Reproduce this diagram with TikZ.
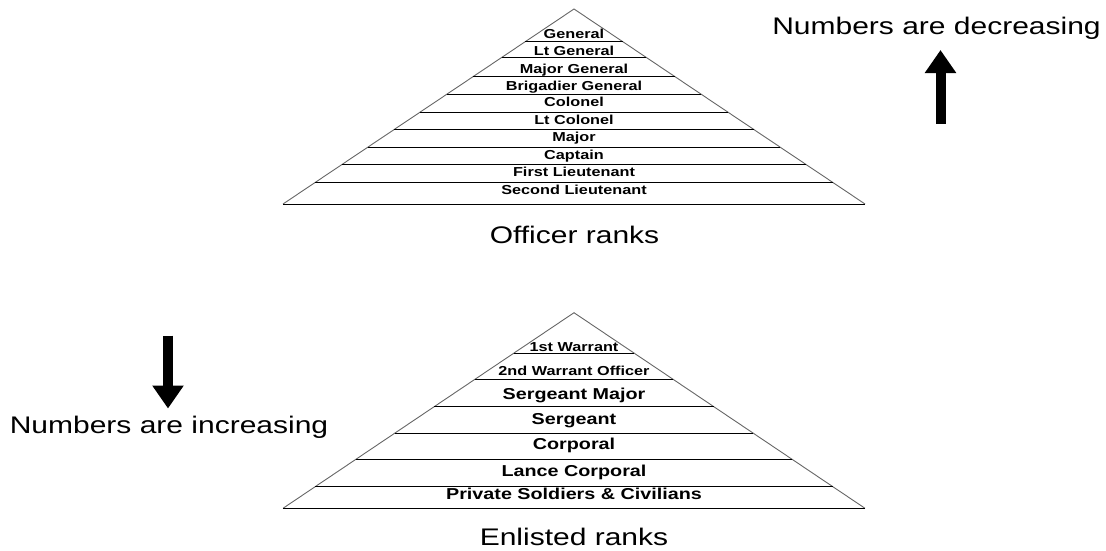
\documentclass[tikz,border=0pt]{standalone}
\usepackage{fontspec}
\setmainfont[FakeStretch=1.25]{Liberation Sans}
\usetikzlibrary{calc,arrows.meta}
\tikzset{
  slantline/.style={draw=black!60, line width=0.9pt},
  bandline/.style={draw=black, line width=0.9pt},
  rankname/.style={anchor=base, inner sep=0pt, font=\bfseries\fontsize{13}{15}\selectfont},
  bigrankname/.style={rankname, font=\bfseries\fontsize{15.8}{18}\selectfont},
  captiontext/.style={anchor=base, inner sep=0pt, font=\fontsize{24}{28}\selectfont},
  trendarrow/.style={line width=10pt, -{Triangle[width=30pt,length=23pt]}}
}
\begin{document}
\begin{tikzpicture}[x=1pt,y=-1pt]
  \useasboundingbox (0,0) rectangle (1106,550);
  % officer pyramid
  \coordinate (otop) at (574,9);
  \coordinate (obl) at (283,204);
  \coordinate (obr) at (865,204);
  \draw[slantline] (obl) -- (otop) -- (obr);
  \draw[bandline] (obl) -- (obr);
  \foreach \y in {41.7,57.3,76.7,94,112.3,129.7,147.3,164.7,182.3}
    \draw[bandline] ($(otop)!{(\y-9)/195}!(obl)$) -- ($(otop)!{(\y-9)/195}!(obr)$);
  \node[rankname] (gen) at (574,38.3) {General};
  \node[rankname] (ltgen) at (574,55) {Lt General};
  \node[rankname] (majgen) at (574,73.3) {Major General};
  \node[rankname] (briggen) at (574,90.7) {Brigadier General};
  \node[rankname] (col) at (574,106.7) {Colonel};
  \node[rankname] (ltcol) at (574,124) {Lt Colonel};
  \node[rankname] (maj) at (574,141.7) {Major};
  \node[rankname] (capt) at (574,159) {Captain};
  \node[rankname] (firstlt) at (574,176.7) {First Lieutenant};
  \node[rankname] (secondlt) at (574,194.3) {Second Lieutenant};
  \node[captiontext] (officers) at (574.5,243) {Officer ranks};
  % enlisted pyramid
  \coordinate (etop) at (574,312.7);
  \coordinate (ebl) at (283,508.3);
  \coordinate (ebr) at (865,508.3);
  \draw[slantline] (ebl) -- (etop) -- (ebr);
  \draw[bandline] (ebl) -- (ebr);
  \foreach \y in {353.3,379.3,406.7,433.3,459.3,486.7}
    \draw[bandline] ($(etop)!{(\y-312.7)/195.6}!(ebl)$) -- ($(etop)!{(\y-312.7)/195.6}!(ebr)$);
  \node[rankname] (wo1) at (574,351.5) {1st Warrant};
  \node[rankname] (wo2) at (574,375) {2nd Warrant Officer};
  \node[bigrankname] (sgtmaj) at (574,399) {Sergeant Major};
  \node[bigrankname] (sgt) at (574,424) {Sergeant};
  \node[bigrankname] (cpl) at (574,449.5) {Corporal};
  \node[bigrankname] (lcpl) at (574,476) {Lance Corporal};
  \node[bigrankname] (pte) at (574,499.5) {Private Soldiers \& Civilians};
  \node[captiontext] (enlisted) at (574,545) {Enlisted ranks};
  % trends
  \node[captiontext] (decr) at (936.5,34) {Numbers are decreasing};
  \coordinate (uptail) at (940.5,123.5);
  \coordinate (uphead) at (940.5,50);
  \draw[trendarrow] (uptail) -- (uphead);
  \node[captiontext] (incr) at (169,433) {Numbers are increasing};
  \coordinate (downtail) at (168,335.5);
  \coordinate (downhead) at (168,408.5);
  \draw[trendarrow] (downtail) -- (downhead);
\end{tikzpicture}
\end{document}
